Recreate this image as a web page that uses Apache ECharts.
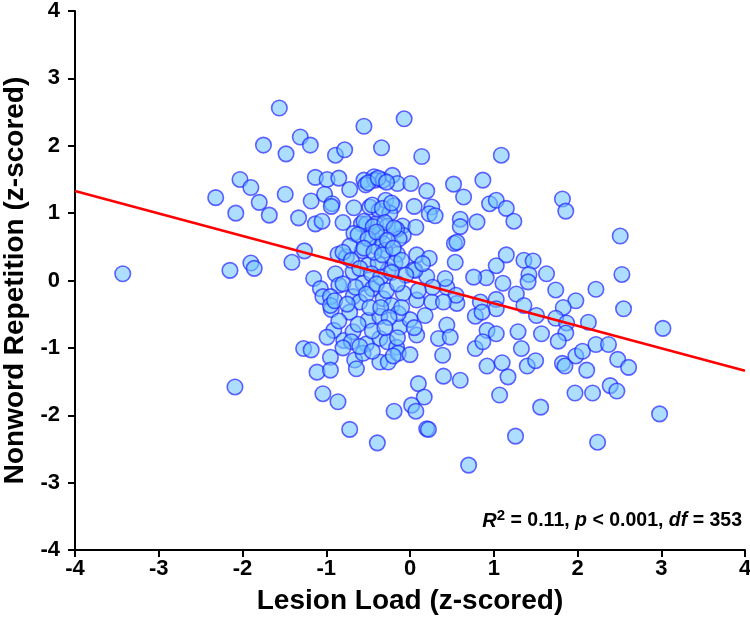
<!DOCTYPE html>
<html>
<head>
<meta charset="utf-8">
<script src="https://cdn.jsdelivr.net/npm/echarts@6/dist/echarts.min.js"></script>
<style>
html,body{margin:0;padding:0;background:#fff;}
#chart{width:750px;height:628px;}
</style>
</head>
<body>
<div id="chart"></div>
<script>
// Lesion load (x, z-scored) and nonword repetition (y, z-scored) per participant
const lesionLoad = [
-1.56,-0.55,-0.07,-1.75,-1.31,-1.19,-1.48,-0.89,-0.78,-0.34,0.14,-2.03,-1.90,-2.32,-1.80,-2.08,-1.68,-1.49,-1.33,-1.18,
-1.13,-1.05,-1.13,-0.99,-0.85,-0.72,-1.02,-0.93,-0.94,-0.80,-0.67,-0.55,-0.43,-0.42,-0.32,-0.21,-0.15,0.01,0.20,-0.53,
-0.48,-0.37,-0.29,-0.19,-0.24,0.05,0.26,0.23,0.30,-0.58,-0.52,-0.41,-0.27,-0.09,0.07,-0.08,-0.67,-0.46,-0.36,-0.57,
-0.40,-0.32,-0.15,0.08,0.23,-0.86,-0.76,-1.26,-1.41,-1.90,-1.86,-2.15,-1.15,-0.89,-0.68,-0.50,-0.26,-0.18,0.04,0.20,
-0.72,-0.38,-0.16,-0.13,-0.30,
-1.07,-1.04,-0.94,-0.85,-0.95,-0.56,-0.45,-0.68,-0.60,0.06,-0.32,-0.22,-0.08,0.08,0.26,0.44,-0.72,-0.50,-0.36,-0.12,
0.00,0.18,-0.91,-0.99,-0.79,-0.68,-0.70,-0.52,-0.36,-0.27,-0.16,0.08,0.34,0.44,-1.27,-1.18,-0.95,-0.66,-0.56,-0.36,
-0.26,-0.14,0.00,0.39,-1.11,-0.95,-0.64,0.40,-2.09,-1.04,-0.86,0.10,0.17,0.02,0.07,-0.19,-0.72,0.20,0.22,-0.39,
-0.95,-0.14,
1.09,0.52,0.87,0.64,0.95,1.03,1.15,1.24,1.82,1.86,0.60,0.60,0.80,2.51,0.53,0.56,0.54,1.15,1.03,1.36,
1.47,1.63,1.42,1.41,1.11,1.27,0.91,0.76,0.42,0.27,1.74,1.98,2.22,2.53,2.55,3.02,2.13,1.83,1.74,1.87,
1.86,1.77,1.51,1.57,1.36,1.29,1.33,1.03,1.03,0.84,0.78,0.86,0.56,0.55,0.40,0.48,0.92,1.03,0.78,0.87,
0.92,1.10,1.17,1.40,1.50,1.82,1.85,1.98,2.06,2.22,2.37,2.48,2.61,2.11,0.60,1.07,1.97,2.18,2.39,2.47,
1.56,2.98,1.26,2.24,-3.43,0.70,
-0.50,-0.38,-0.28,-0.45,-0.33,-0.22,-0.55,-0.44,-0.30,-0.19,-0.62,-0.50,-0.40,-0.27,-0.55,-0.43,-0.33,-0.20,-0.80,-0.70,
-0.60,-0.46,-0.35,-0.22,-0.10,-0.05,-0.80,-0.65,-0.52,-0.40,-0.28,-0.15,-0.90,-0.75,-0.48,-0.35,-0.25,-0.10,-0.85,-0.62,
-0.45,-0.30,-0.15,-0.80,-0.60,-0.45,-0.20,0.10,0.15,0.05
];
const nonwordRep = [
2.56,2.29,2.40,2.01,2.13,2.01,1.88,1.86,1.94,1.97,1.84,1.50,1.38,1.23,1.16,1.00,0.97,1.28,0.93,1.18,
0.84,0.88,1.53,1.50,1.52,1.35,1.28,1.14,1.10,0.86,1.08,1.49,1.54,1.49,1.49,1.56,1.44,1.44,1.33,1.42,
1.09,1.04,1.19,1.11,1.00,1.10,1.09,0.99,0.96,0.84,0.84,0.84,0.81,0.81,0.79,0.67,0.70,0.65,0.70,0.44,
0.50,0.55,0.39,0.38,0.33,0.39,0.35,0.44,0.27,0.26,0.18,0.15,0.03,0.10,0.13,0.23,0.15,0.26,0.16,0.06,
0.51,0.26,0.76,0.62,0.45,
-0.12,-0.24,-0.43,-0.07,-0.24,-0.04,-0.12,-0.24,-0.32,0.15,-0.27,-0.37,-0.19,-0.29,-0.32,-0.10,-0.47,-0.59,-0.53,-0.69,
-0.58,-0.52,-0.74,-0.84,-0.89,-0.76,-0.91,-0.94,-0.86,-0.91,-0.99,-0.81,-0.86,-0.66,-1.01,-1.03,-1.14,-1.18,-1.08,-1.21,
-1.21,-1.08,-1.10,-1.11,-1.36,-1.33,-1.31,-1.42,-1.58,-1.68,-1.80,-1.53,-1.73,-1.85,-1.94,-1.94,-2.21,-2.20,-2.21,-2.41,
-0.37,-0.49,
1.86,1.43,1.49,1.24,1.14,1.19,1.07,0.88,1.21,1.03,0.91,0.80,0.87,0.66,0.55,0.57,0.27,0.38,0.22,0.30,
0.29,0.10,0.09,-0.02,-0.04,-0.20,0.04,0.05,0.03,-0.10,-0.14,-0.30,-0.13,0.09,-0.42,-0.71,-0.62,-0.40,-0.56,-0.63,
-0.78,-0.90,-0.52,-0.79,-0.37,-0.76,-1.01,-0.28,-0.42,-0.32,-0.53,-0.47,-0.34,-0.22,-0.32,-0.84,-0.74,-0.79,-1.01,-0.91,
-1.27,-1.22,-1.43,-1.27,-1.19,-1.23,-1.27,-1.12,-1.05,-0.95,-0.95,-1.17,-1.29,-1.33,-1.48,-1.70,-1.67,-1.67,-1.56,-1.64,
-1.88,-1.98,-2.31,-2.40,0.10,-2.74,
1.45,1.52,1.46,1.12,1.07,1.15,0.88,0.80,0.86,0.78,0.68,0.62,0.72,0.60,0.48,0.42,0.38,0.48,0.42,0.30,
0.18,0.10,0.05,0.12,0.30,0.08,-0.05,-0.10,-0.20,-0.05,-0.15,-0.05,-0.30,-0.35,-0.40,-0.40,-0.55,-0.40,-0.60,-0.65,
-0.75,-0.70,-0.85,-1.00,-0.98,-1.05,-1.12,-0.15,0.25,-0.70
];
// Regression line endpoints
const fitX = [-4, 4];
const fitY = [1.33, -1.34];
const tickMin = -4, tickMax = 4, tickStep = 1;
const xTitle = 'Lesion Load (z-scored)';
const yTitle = 'Nonword Repetition (z-scored)';

const FONT = "'Liberation Sans', Arial, Helvetica, sans-serif";
const points = lesionLoad.map((x, i) => [x, nonwordRep[i]]);
const fitLine = fitX.map((x, i) => [x, fitY[i]]);

const axisCommon = {
  type: 'value', min: tickMin, max: tickMax, interval: tickStep,
  axisLine: { onZero: false, lineStyle: { color: '#000', width: 2 } },
  axisTick: { length: 7, lineStyle: { color: '#000', width: 2 } },
  splitLine: { show: false },
  nameLocation: 'middle',
  nameTextStyle: { color: '#000', fontSize: 28, fontWeight: 'bold', fontFamily: FONT }
};

const chart = echarts.init(document.getElementById('chart'), null, { renderer: 'canvas' });
chart.setOption({
  animation: false,
  backgroundColor: '#fff',
  grid: { left: 75, right: 5, top: 11, bottom: 78, containLabel: false, outerBoundsMode: 'none' },
  xAxis: Object.assign({}, axisCommon, {
    name: xTitle, nameGap: 37,
    axisLabel: { color: '#000', fontSize: 22, fontWeight: 'bold', fontFamily: FONT, margin: 8 }
  }),
  yAxis: Object.assign({}, axisCommon, {
    name: yTitle, nameGap: 42,
    axisLabel: { color: '#000', fontSize: 22, fontWeight: 'bold', fontFamily: FONT, margin: 15 }
  }),
  series: [
    {
      type: 'scatter', data: points, symbol: 'circle', symbolSize: 15.5,
      itemStyle: { color: 'rgba(115,198,255,0.72)', borderColor: 'rgba(30,30,255,0.85)', borderWidth: 1.6 },
      z: 2
    },
    {
      type: 'line', data: fitLine, symbol: 'none', silent: true,
      lineStyle: { color: '#ff0000', width: 2.6 }, z: 5
    }
  ],
  graphic: [{
    type: 'text', right: 8, top: 508,
    style: {
      text: '{ri|R}{sup|2}{b| = 0.11, }{i|p}{b| < 0.001, }{i|df}{b| = 353}',
      rich: {
        ri: { fontSize: 20, fontWeight: 'bold', fontStyle: 'italic', fontFamily: FONT, fill: '#000', lineHeight: 26 },
        sup: { fontSize: 15, fontWeight: 'bold', fontFamily: FONT, fill: '#000', verticalAlign: 'top', lineHeight: 15 },
        b: { fontSize: 19.5, fontWeight: 'bold', fontFamily: FONT, fill: '#000', lineHeight: 26 },
        i: { fontSize: 19.5, fontWeight: 'bold', fontStyle: 'italic', fontFamily: FONT, fill: '#000', lineHeight: 26 }
      }
    }
  }]
});
</script>
</body>
</html>
